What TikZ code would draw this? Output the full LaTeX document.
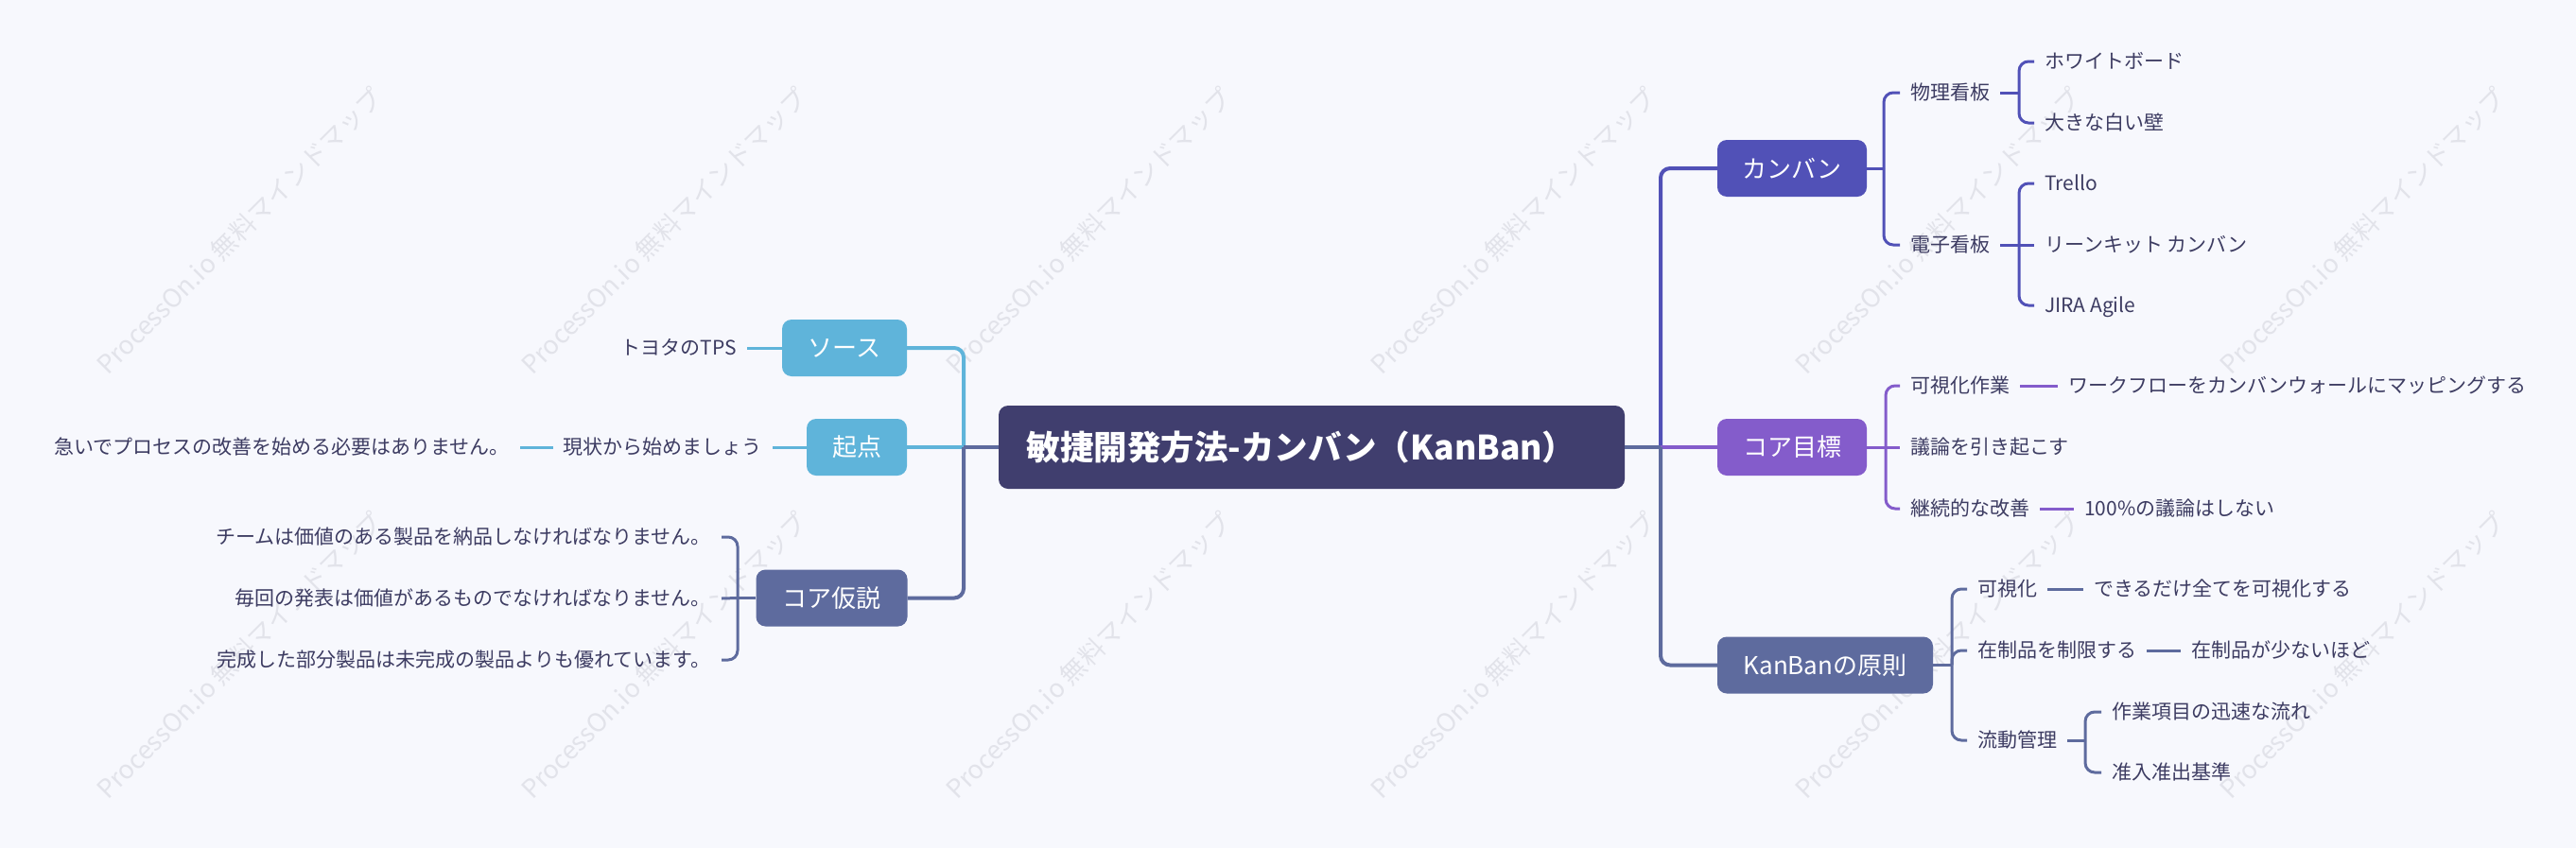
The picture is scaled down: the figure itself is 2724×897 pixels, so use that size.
\documentclass[tikz,border=0pt]{standalone}
\usepackage{fontspec}
\newfontfamily\jp{Noto Sans CJK JP}
\definecolor{bgc}{HTML}{F7F8FD}
\definecolor{rootc}{HTML}{403E6E}
\definecolor{lbc}{HTML}{5FB4DA}
\definecolor{gbc}{HTML}{5E6B9E}
\definecolor{indc}{HTML}{5151B7}
\definecolor{purc}{HTML}{845CCB}
\definecolor{txtc}{HTML}{3D3C62}
\definecolor{wmc}{HTML}{E2E3EA}
\begin{document}
\begin{tikzpicture}[x=1pt,y=-1pt,
  box/.style={rounded corners=10pt, minimum height=60pt, inner sep=0pt, text=white,
    font=\jp\fontsize{26}{30}\selectfont},
  lbl/.style={inner xsep=11pt, inner ysep=0pt, text=txtc,
    font=\jp\fontsize{21}{25}\selectfont, text height=17pt, text depth=3pt},
  wmark/.style={text=wmc, inner sep=0pt, rotate=45, anchor=base west,
    font=\jp\fontsize{27}{31}\selectfont},
  mainline/.style={line width=4pt},
  subline/.style={line width=3pt},
  rc/.style={rounded corners=10pt}]
\useasboundingbox (0,0) rectangle (2724,897);
\fill[bgc] (0,0) rectangle (2724,897);

% watermarks
\foreach \x in {114,563,1012,1461,1910,2359}{
  \foreach \y in {398,847}{
    \node[wmark] (wm-\x-\y) at (\x,\y) {ProcessOn.io 無料マインドマップ};
  }
}

% boxes
\node[box, fill=rootc, minimum width=662pt, minimum height=88pt,
  font=\jp\bfseries\fontsize{35.5}{40}\selectfont] (root) at (1387,473) {敏捷開発方法-カンバン（KanBan）\hspace*{22pt}};
\node[box, fill=lbc, minimum width=132pt] (src) at (893,368) {ソース};
\node[box, fill=lbc, minimum width=106pt] (start) at (906,473) {起点};
\node[box, fill=gbc, minimum width=160pt] (hyp) at (879.5,632.5) {コア仮説};
\node[box, fill=indc, minimum width=158pt] (kb) at (1895,178) {カンバン};
\node[box, fill=purc, minimum width=158pt] (goal) at (1895,473) {コア目標};
\node[box, fill=gbc, minimum width=228pt] (prin) at (1930,703.5) {KanBanの原則};

% left labels
\node[lbl, anchor=east] (tps) at (790,368) {トヨタのTPS};
\node[lbl, anchor=east] (genjo) at (817,473) {現状から始めましょう};
\node[lbl, anchor=east] (isoi) at (550,473) {急いでプロセスの改善を始める必要はありません。};
\node[lbl, anchor=east] (h1) at (763,568) {チームは価値のある製品を納品しなければなりません。};
\node[lbl, anchor=east] (h2) at (763,633) {毎回の発表は価値があるものでなければなりません。};
\node[lbl, anchor=east] (h3) at (763,698) {完成した部分製品は未完成の製品よりも優れています。};

% right labels
\node[lbl, anchor=west] (phys) at (2009,98) {物理看板};
\node[lbl, anchor=west] (denshi) at (2009,259) {電子看板};
\node[lbl, anchor=west] (wb) at (2151,65) {ホワイトボード};
\node[lbl, anchor=west] (wall) at (2151,130) {大きな白い壁};
\node[lbl, anchor=west] (trello) at (2151,194) {Trello};
\node[lbl, anchor=west] (lean) at (2151,259) {リーンキット カンバン};
\node[lbl, anchor=west] (jira) at (2151,323) {JIRA Agile};
\node[lbl, anchor=west] (vis) at (2009,408) {可視化作業};
\node[lbl, anchor=west] (wf) at (2176,408) {ワークフローをカンバンウォールにマッピングする};
\node[lbl, anchor=west] (disc) at (2009,473) {議論を引き起こす};
\node[lbl, anchor=west] (cont) at (2009,538) {継続的な改善};
\node[lbl, anchor=west] (hund) at (2193,538) {100\%の議論はしない};
\node[lbl, anchor=west] (pvis) at (2080,623) {可視化};
\node[lbl, anchor=west] (pall) at (2203,623) {できるだけ全てを可視化する};
\node[lbl, anchor=west] (wip) at (2080,688) {在制品を制限する};
\node[lbl, anchor=west] (less) at (2306,688) {在制品が少ないほど};
\node[lbl, anchor=west] (flow) at (2080,783) {流動管理};
\node[lbl, anchor=west] (fast) at (2222,753) {作業項目の迅速な流れ};
\node[lbl, anchor=west] (gate) at (2222,817) {准入准出基準};

% junctions
\coordinate (rlj) at (1019,473);
\coordinate (rrj) at (1756,473);
\coordinate (hj) at (780,632.5);
\coordinate (kbj) at (1992,178);
\coordinate (pj) at (2135,98);
\coordinate (dj) at (2135,259);
\coordinate (gj) at (1994,473);
\coordinate (prj) at (2064,703.5);
\coordinate (fj) at (2205,783);

% main connectors (left)
\draw[mainline, lbc, rc] (rlj) |- (src.east);
\draw[mainline, lbc] (rlj) -- (start.east);
\draw[mainline, gbc, rc] (rlj) |- (hyp.east);
\draw[mainline, gbc] (root.west) -- (rlj);
% main connectors (right)
\draw[mainline, indc, rc] (rrj) |- (kb.west);
\draw[mainline, purc] (rrj) -- (goal.west);
\draw[mainline, gbc, rc] (rrj) |- (prin.west);
\draw[mainline, gbc] (root.east) -- (rrj);

% left sub connectors
\draw[subline, lbc] (src.west) -- (tps.east);
\draw[subline, lbc] (start.west) -- (genjo.east);
\draw[subline, lbc] (genjo.west) -- (isoi.east);
\draw[subline, gbc] (hyp.west) -- (hj);
\draw[subline, gbc, rc] (hj) |- (h1.east);
\draw[subline, gbc] (hj) -- (h2.east);
\draw[subline, gbc, rc] (hj) |- (h3.east);

% kanban sub connectors
\draw[subline, indc] (kb.east) -- (kbj);
\draw[subline, indc, rc] (kbj) |- (phys.west);
\draw[subline, indc, rc] (kbj) |- (denshi.west);
\draw[subline, indc] (phys.east) -- (pj);
\draw[subline, indc, rc] (pj) |- (wb.west);
\draw[subline, indc, rc] (pj) |- (wall.west);
\draw[subline, indc] (denshi.east) -- (dj);
\draw[subline, indc, rc] (dj) |- (trello.west);
\draw[subline, indc] (dj) -- (lean.west);
\draw[subline, indc, rc] (dj) |- (jira.west);

% goal sub connectors
\draw[subline, purc] (goal.east) -- (gj);
\draw[subline, purc, rc] (gj) |- (vis.west);
\draw[subline, purc] (gj) -- (disc.west);
\draw[subline, purc, rc] (gj) |- (cont.west);
\draw[subline, purc] (vis.east) -- (wf.west);
\draw[subline, purc] (cont.east) -- (hund.west);

% principle sub connectors
\draw[subline, gbc] (prin.east) -- (prj);
\draw[subline, gbc, rc] (prj) |- (pvis.west);
\draw[subline, gbc, rc] (prj) |- (wip.west);
\draw[subline, gbc, rc] (prj) |- (flow.west);
\draw[subline, gbc] (pvis.east) -- (pall.west);
\draw[subline, gbc] (wip.east) -- (less.west);
\draw[subline, gbc] (flow.east) -- (fj);
\draw[subline, gbc, rc] (fj) |- (fast.west);
\draw[subline, gbc, rc] (fj) |- (gate.west);
\end{tikzpicture}
\end{document}
